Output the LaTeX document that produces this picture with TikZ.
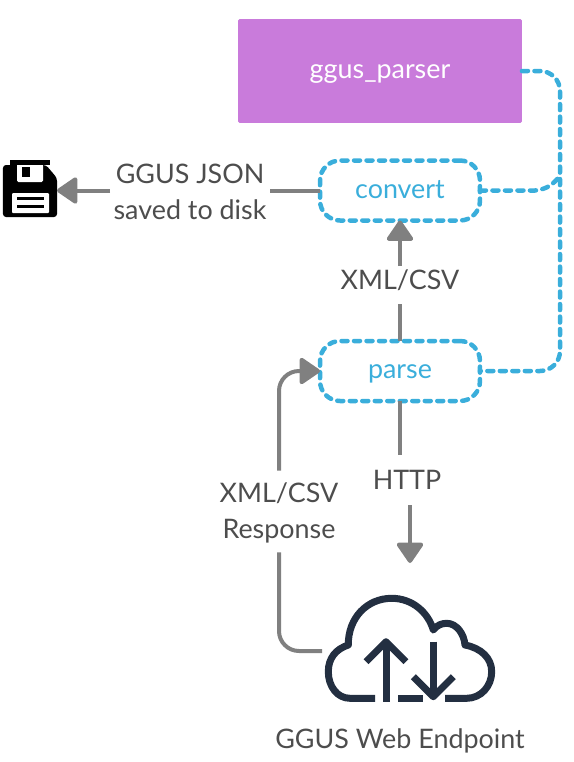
\documentclass[tikz,border=0pt]{standalone}
\usepackage{fontspec}
\setmainfont{Lato}
\usetikzlibrary{arrows.meta}
\definecolor{parserfill}{HTML}{C97BDB}
\definecolor{stepblue}{HTML}{3AAEDB}
\definecolor{flowgray}{HTML}{808080}
\definecolor{labelgray}{HTML}{4D4D4D}
\definecolor{cloudnavy}{HTML}{232F41}
\tikzset{
  flowline/.style={line width=0.08cm,draw=flowgray},
  flowtip/.style={-{Triangle[length=0.44cm,width=0.58cm,round]}},
  stepline/.style={line width=0.09cm,draw=stepblue,line cap=round,dash pattern=on 0.12cm off 0.13cm},
  stepbox/.style={stepline,rounded corners=0.4cm,minimum width=3.2cm,minimum height=1.2cm,outer sep=0pt,text=stepblue,text height=11pt,text depth=2pt,font=\fontsize{15.3}{20}\selectfont},
  flowlabel/.style={text=labelgray,align=center,inner sep=0.06cm,font=\fontsize{15.3}{20.4}\selectfont},
  cloudline/.style={line width=0.14cm,draw=cloudnavy},
}
\begin{document}
\begin{tikzpicture}[x=0.02cm,y=-0.02cm,line join=round]
  \useasboundingbox (0,0) rectangle (574,762);
  % parser box
  \node[fill=parserfill,rounded corners=0.03cm,minimum width=5.68cm,minimum height=2.08cm,outer sep=0pt,text=white,text height=11pt,text depth=2pt,font=\fontsize{15.3}{20}\selectfont] (parser) at (380,71) {ggus\_parser};
  % steps
  \node[stepbox] (convert) at (400,190.5) {convert};
  \node[stepbox] (parse) at (400,371) {parse};
  % dashed links on the right
  \coordinate (railtop) at (560,71);
  \coordinate (railbottom) at (560,371);
  \coordinate (railjoin) at (560,176);
  \draw[stepline,rounded corners=0.4cm] (parser.east) -- (railtop) -- (railbottom) -- (parse.east);
  \draw[stepline] (convert.east) -- (535,190.5) .. controls (548,189) and (553,184) .. (railjoin);
  % disk icon
  \node[minimum width=1.08cm,minimum height=1.04cm,outer sep=0pt] (disk) at (30,190.5) {};
  \fill[rounded corners=0.06cm] (3,165) -- (46,165) -- (57,178) -- (57,217) -- (3,217) -- cycle;
  \fill[white,rounded corners=0.03cm] (17,160) -- (43,160) -- (43,182) -- (17,182) -- cycle;
  \fill (22,167) rectangle (30,177);
  \fill[black] (10,160) rectangle (50,165);
  \fill[white,rounded corners=0.02cm] (12,193) rectangle (49,213);
  \foreach \y in {197,205} {
    \fill (17,\y) rectangle (44,\y+3);
  }
  % saved json
  \node[flowlabel] (jsonlabel) at (190,191.5) {GGUS JSON\\saved to disk};
  \draw[flowline] (convert.west) -- (jsonlabel.east |- convert.west);
  \draw[flowline,flowtip] (jsonlabel.west |- disk.east) -- (disk.east);
  % parse to convert
  \node[flowlabel] (xmllabel) at (400,280) {XML/CSV};
  \draw[flowline,shorten >=0.2cm] (parse.north) -- (xmllabel.south);
  \draw[flowline,flowtip] (xmllabel.north) -- (convert.south);
  % http request
  \node[flowlabel] (httplabel) at (407,480) {HTTP};
  \coordinate (httptop) at (400,455);
  \coordinate (httpstart) at (410,505);
  \coordinate (httpend) at (410,563);
  \draw[flowline] (parse.south) -- (httptop);
  \draw[flowline,flowtip] (httpstart) -- (httpend);
  % cloud icon
  \node[minimum width=3.52cm,minimum height=2.2cm,outer sep=0pt] (cloud) at (410,651) {};
  \draw[cloudline] (375,698.3) -- (350,698.3)
    .. controls (337,698.3) and (328.3,686) .. (328.3,671.7)
    .. controls (328.3,658) and (336,649) .. (348.3,645)
    .. controls (348,618) and (367,598.3) .. (391.7,598.3)
    .. controls (412,598.3) and (428,612) .. (433.3,630)
    .. controls (437,625) and (442,623.3) .. (446.7,623.3)
    .. controls (456,623.3) and (464,633) .. (465,645)
    .. controls (481,648) and (491.7,658) .. (491.7,671.7)
    .. controls (491.7,686) and (481,698.3) .. (466.7,698.3) -- (445,698.3);
  \draw[cloudline] (398.3,698.3) -- (423.3,698.3);
  \draw[cloudline] (386,701.7) -- (386,641.7);
  \draw[cloudline] (366,661.7) -- (386,641.7) -- (406,661.7);
  \draw[cloudline] (433.3,641.7) -- (433.3,696.7);
  \draw[cloudline] (413.3,676.7) -- (433.3,696.7) -- (453.3,676.7);
  \node[flowlabel] (cloudlabel) at (400,741) {GGUS Web Endpoint};
  % response
  \node[flowlabel] (resplabel) at (279,513) {XML/CSV\\Response};
  \draw[flowline,rounded corners=0.4cm,shorten <=0.12cm] (resplabel.south) |- (cloud.west);
  \draw[flowline,flowtip,rounded corners=0.4cm,shorten <=0.18cm] (resplabel.north) |- (parse.west);
\end{tikzpicture}
\end{document}
